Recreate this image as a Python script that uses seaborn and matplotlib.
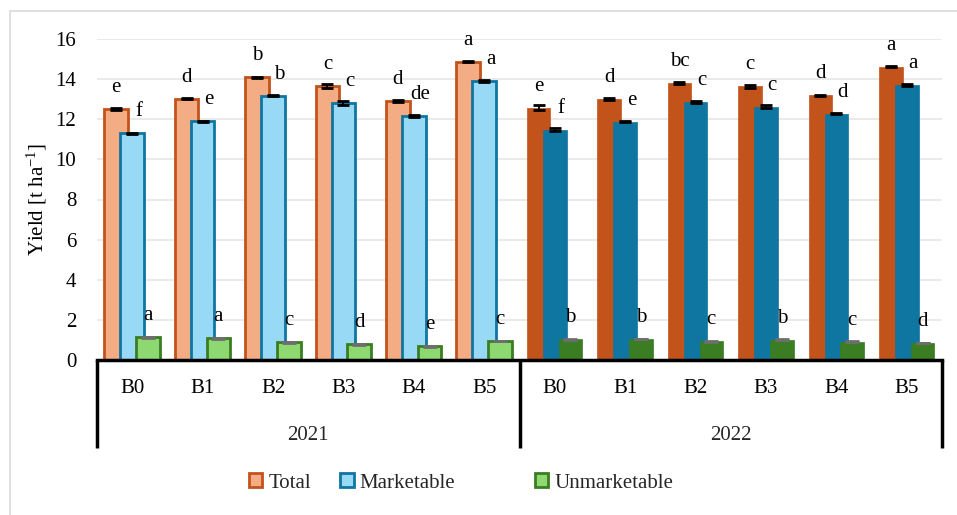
import numpy as np
import pandas as pd
import seaborn as sns
import matplotlib
matplotlib.use("Agg")
import matplotlib.pyplot as plt
from matplotlib.patches import Patch, Rectangle

# ---------------- data ----------------
treatments = ["B0", "B1", "B2", "B3", "B4", "B5"]
years = ["2021", "2022"]

total_2021 = [12.51, 13.03, 14.09, 13.64, 12.91, 14.86]
total_2022 = [12.58, 13.00, 13.82, 13.64, 13.19, 14.61]
market_2021 = [11.30, 11.90, 13.18, 12.81, 12.15, 13.91]
market_2022 = [11.48, 11.88, 12.88, 12.63, 12.28, 13.72]
unmark_2021 = [1.13, 1.08, 0.88, 0.78, 0.68, 0.95]
unmark_2022 = [1.03, 1.05, 0.93, 1.01, 0.91, 0.85]

total_err = [0.03, 0.03, 0.03, 0.10, 0.07, 0.03, 0.12, 0.05, 0.04, 0.06, 0.03, 0.03]
market_err = [0.03, 0.03, 0.04, 0.09, 0.05, 0.03, 0.08, 0.03, 0.05, 0.06, 0.03, 0.04]
unmark_err = [0.02] * 12

total_letters = ["e", "d", "b", "c", "d", "a", "e", "d", "bc", "c", "d", "a"]
market_letters = ["f", "e", "b", "c", "de", "a", "f", "e", "c", "c", "d", "a"]
unmark_letters = ["a", "a", "c", "d", "e", "c", "b", "b", "c", "b", "c", "d"]

series_names = ["Total", "Marketable", "Unmarketable"]
light_colors = ["#F3AC84", "#98DAF5", "#8ED872"]
dark_colors = ["#C2531A", "#0E76A0", "#3A7D23"]

# ---------------- style ----------------
sns.set_theme(style="white")
plt.rcParams["font.family"] = ["Liberation Serif", "DejaVu Serif"]
plt.rcParams["mathtext.fontset"] = "custom"
plt.rcParams["mathtext.rm"] = "Liberation Serif"
plt.rcParams["mathtext.it"] = "Liberation Serif:italic"
FS = 15

fig = plt.figure(figsize=(9.57, 5.15), dpi=100)
W, H = 957, 515
ax = fig.add_axes([97 / W, 155 / H, 845 / W, 321 / H])

n = len(treatments) * len(years)
idx = np.arange(n)
year_col = [y for y in years for _ in treatments]
offsets = [-0.228, 0.0, 0.224]
values = [total_2021 + total_2022, market_2021 + market_2022, unmark_2021 + unmark_2022]
errs = [total_err, market_err, unmark_err]
letters = [total_letters, market_letters, unmark_letters]
letter_dx = [0.0, 0.09, 0.0]

for k in range(3):
    df = pd.DataFrame({"pos": idx + offsets[k], "value": values[k], "year": year_col})
    before = len(ax.patches)
    sns.barplot(data=df, x="pos", y="value", hue="year", native_scale=True,
                palette={years[0]: light_colors[k], years[1]: dark_colors[k]},
                saturation=1, dodge=False, width=0.335, errorbar=None, legend=False,
                ax=ax, linewidth=0, zorder=2 + k)
    new = ax.patches[before:]
    for p, yr in zip(new, year_col):
        p.set_edgecolor(dark_colors[k])
        p.set_linewidth(2.0 if yr == years[0] else 0.5)
        p.set_zorder(2 + k)
    ecol = "black" if k < 2 else "#6E6E6E"
    cap = 4 if k < 2 else 5
    ax.errorbar(idx + offsets[k], values[k], yerr=errs[k], fmt="none", ecolor=ecol,
                elinewidth=1.3, capsize=cap, capthick=2.0, zorder=6)
    for i in range(n):
        ax.text(idx[i] + offsets[k] + letter_dx[k], values[k][i] + 0.85, letters[k][i],
                ha="center", va="baseline", fontsize=FS, color="black", zorder=7)

ax.set_xlim(-0.5, n - 0.5)
ax.set_ylim(0, 16)
ax.set_yticks(np.arange(0, 17, 2))
ax.yaxis.grid(True, color="#E6E6E6", linewidth=1.2)
ax.set_axisbelow(True)
for s in ["top", "left", "right"]:
    ax.spines[s].set_visible(False)
ax.spines["bottom"].set_color("black")
ax.spines["bottom"].set_linewidth(2.5)
ax.spines["bottom"].set_zorder(10)
ax.tick_params(axis="y", length=0, labelsize=FS, pad=15, colors="black")
ax.set_xticks(idx)
ax.set_xticklabels(treatments * 2)
ax.tick_params(axis="x", length=0, labelsize=FS, pad=14, colors="black")
ax.set_xlabel("")
ax.set_ylabel("Yield [t ha$^{\\mathregular{-1}}$]", fontsize=FS, color="black")
ax.yaxis.set_label_coords(-0.057, 0.5)

trans = ax.get_xaxis_transform()
y_bottom = (360 - 448) / 321
for xv in [-0.5, 5.5, 11.5]:
    ax.plot([xv, xv], [0, y_bottom], color="black", lw=2.5, transform=trans,
            clip_on=False, solid_capstyle="butt")
y_year = (360 - 436) / 321
ax.text(2.5, y_year, years[0], transform=trans, ha="center", va="center", fontsize=FS)
ax.text(8.5, y_year, years[1], transform=trans, ha="center", va="center", fontsize=FS)

# outer border
fig.patches.append(Rectangle((10 / W, -0.05), 1.0, 1 - 11 / H + 0.05, transform=fig.transFigure,
                             facecolor="none", edgecolor="#D9D9D9", lw=1.2))

handles = [Patch(facecolor=light_colors[k], edgecolor=dark_colors[k], linewidth=2.0)
           for k in range(3)]
leg_kw = dict(frameon=False, handlelength=0.65, handleheight=0.65, handletextpad=0.3,
              fontsize=FS, borderpad=0, borderaxespad=0, loc="center")
fig.legend(handles[:2], series_names[:2], ncol=2, columnspacing=1.4,
           bbox_to_anchor=(352 / W, 1 - 483 / H), **leg_kw)
fig.legend(handles[2:], series_names[2:], ncol=1,
           bbox_to_anchor=(604 / W, 1 - 483 / H), **leg_kw)

fig.savefig("out.png", dpi=100)
